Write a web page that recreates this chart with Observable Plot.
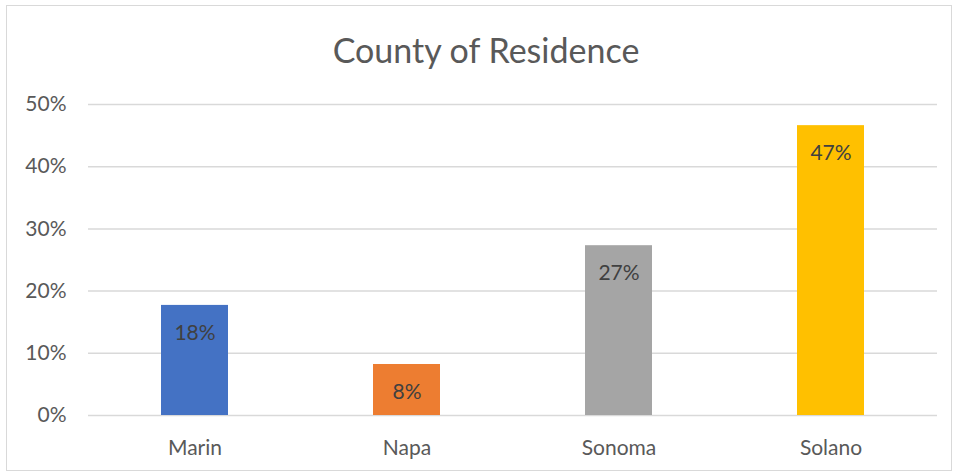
<!DOCTYPE html>
<html>
<head>
<meta charset="utf-8">
<script src="https://cdn.jsdelivr.net/npm/d3@7"></script>
<script src="https://cdn.jsdelivr.net/npm/@observablehq/plot@0.6"></script>
<style>
  html, body { margin: 0; padding: 0; background: #fff; }
  body { width: 956px; height: 473px; position: relative; overflow: hidden; font-family: Lato, sans-serif; }
  #frame { position: absolute; left: 6px; top: 5px; width: 946px; height: 466px; border: 1px solid #d9d9d9; box-sizing: border-box; }
  #title { position: absolute; left: 0; width: 972px; top: 29px; text-align: center; font-size: 34px; color: #595959; line-height: 42px; }
  #chart { position: absolute; left: 0; top: 0; }
</style>
</head>
<body>
<div id="frame"></div>
<div id="title">County of Residence</div>
<div id="chart"></div>
<script>
const counties = ["Marin", "Napa", "Sonoma", "Solano"];
const shares = [0.177, 0.082, 0.273, 0.466];
const labels = ["18%", "8%", "27%", "47%"];
const colors = ["#4472C4", "#ED7D31", "#A5A5A5", "#FFC000"];
const yTicks = [0, 0.1, 0.2, 0.3, 0.4, 0.5];

const data = counties.map((c, i) => ({county: c, share: shares[i], label: labels[i]}));

const chart = Plot.plot({
  width: 956,
  height: 473,
  marginLeft: 88,
  marginRight: 19,
  marginTop: 104,
  marginBottom: 58,
  style: {fontFamily: "Lato, sans-serif", fontSize: "21px", color: "#595959", background: "transparent"},
  x: {domain: counties, paddingInner: 0.684, paddingOuter: 0.342, label: null, tickSize: 0, tickPadding: 25},
  y: {domain: [0, 0.5], ticks: yTicks, tickFormat: d => Math.round(d * 100) + "%", label: null, tickSize: 0, tickPadding: 22},
  color: {domain: counties, range: colors},
  marks: [
    Plot.ruleY(yTicks, {stroke: "#d9d9d9", strokeWidth: 1.5}),
    Plot.barY(data, {x: "county", y: "share", fill: "county"}),
    Plot.text(data, {x: "county", y: "share", text: "label", dy: 28, fill: "#404040", fontSize: 21})
  ]
});
document.getElementById("chart").appendChild(chart);
</script>
</body>
</html>
